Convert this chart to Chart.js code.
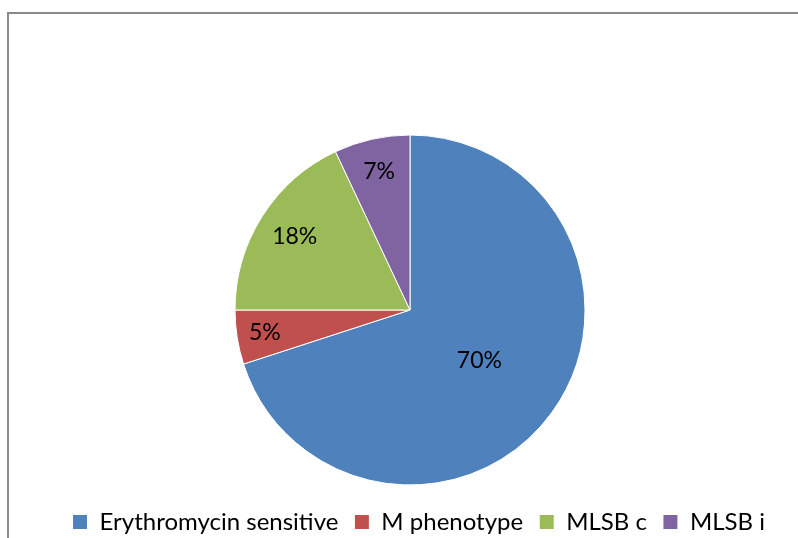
<!DOCTYPE html>
<html>
<head>
<meta charset="utf-8">
<script src="https://cdn.jsdelivr.net/npm/chart.js@4"></script>
<style>
  html, body { margin: 0; padding: 0; background: #fff; overflow: hidden; }
  #frame {
    position: absolute; left: 7px; top: 12px; width: 820px; height: 560px;
    border-left: 2px solid #8a8a8a; border-top: 2px solid #8a8a8a;
  }
  #pie { position: absolute; left: 39px; top: 0; }
</style>
</head>
<body>
<div id="frame"></div>
<canvas id="pie" width="759" height="544"></canvas>
<script>
// Phenotype shares (%)
const categories = ["Erythromycin sensitive", "M phenotype", "MLSB c", "MLSB i"];
const shares = [70, 5, 18, 7];
const sliceColors = ["#4F81BD", "#C0504D", "#9BBB59", "#8064A2"];

// where each percentage sits along its slice bisector (fraction of radius)
const labelRadius = [0.49, 0.84, 0.78, 0.81];

const pctLabels = {
  id: "pctLabels",
  afterDatasetsDraw(chart) {
    const ctx = chart.ctx;
    const meta = chart.getDatasetMeta(0);
    ctx.save();
    ctx.font = "23px Lato";
    ctx.fillStyle = "#000";
    ctx.textAlign = "center";
    ctx.textBaseline = "middle";
    meta.data.forEach((arc, i) => {
      const mid = (arc.startAngle + arc.endAngle) / 2;
      const r = arc.outerRadius * labelRadius[i];
      ctx.fillText(shares[i] + "%", arc.x + Math.cos(mid) * r, arc.y + Math.sin(mid) * r);
    });
    ctx.restore();
  }
};

new Chart(document.getElementById("pie"), {
  type: "pie",
  data: {
    labels: categories,
    datasets: [{
      data: shares,
      backgroundColor: sliceColors,
      borderColor: "#ffffff",
      borderWidth: 1,
      radius: 175
    }]
  },
  options: {
    responsive: false,
    animation: false,
    devicePixelRatio: 1,
    layout: { padding: { left: 0, right: 17, top: 126, bottom: 0 } },
    plugins: {
      tooltip: { enabled: false },
      legend: {
        position: "bottom",
        align: "end",
        labels: {
          font: { family: "Lato", size: 24 },
          color: "#000",
          boxWidth: 15,
          boxHeight: 15,
          padding: 16
        }
      }
    }
  },
  plugins: [pctLabels]
});
</script>
</body>
</html>
